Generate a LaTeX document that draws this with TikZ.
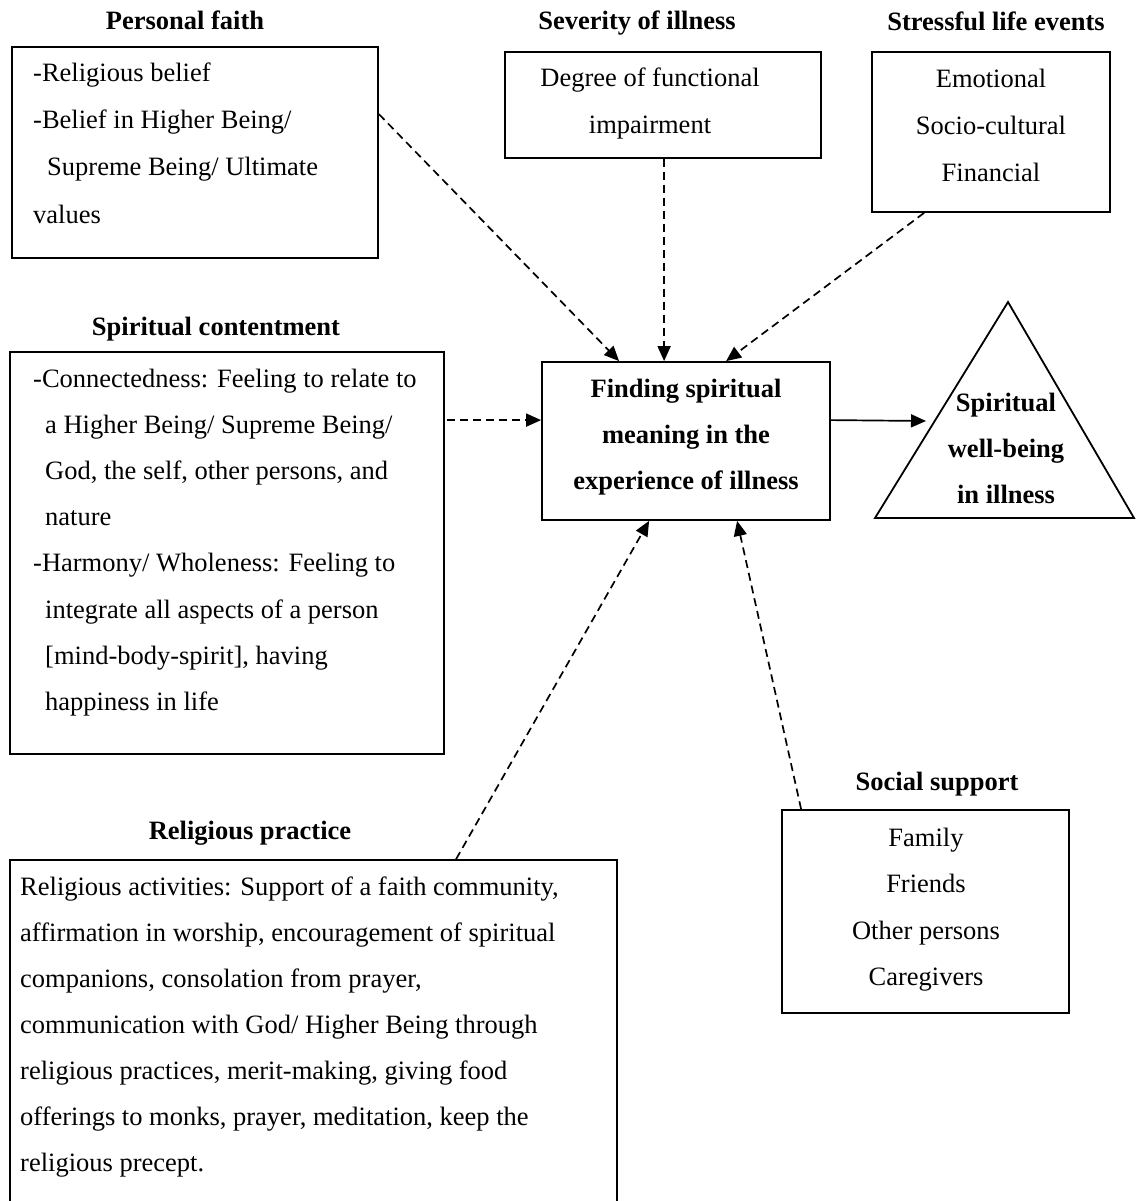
\documentclass[tikz,border=0pt]{standalone}
\usepackage{fontspec}
\setmainfont{Liberation Serif}
\usetikzlibrary{arrows.meta,calc}
\begin{document}
\begin{tikzpicture}[x=1pt,y=-1pt,
  box/.style={draw, line width=1.8pt, inner sep=0pt},
  txt/.style={anchor=base west, inner sep=0pt},
  ctxt/.style={anchor=base, inner sep=0pt},
  ttl/.style={anchor=base, inner sep=0pt, font=\bfseries},
  dasharrow/.style={line width=1.7pt, dash pattern=on 8pt off 5pt, -{Triangle[length=15pt,width=13pt]}},
  solidarrow/.style={line width=1.7pt, -{Triangle[length=15pt,width=13pt]}}]
\fontsize{26.5}{46}\selectfont
\clip (0,0) rectangle (1136,1201);
\fill[white] (0,0) rectangle (1136,1201);

% Personal faith
\node[ttl] (pft) at (185,30) {Personal faith};
\node[box, minimum width=366pt, minimum height=211pt] (pf) at (195,152.5) {};
\node[txt] (pf1) at (33,82) {-Religious belief};
\node[txt] (pf2) at (33,129) {-Belief in Higher Being/};
\node[txt] (pf3) at (47,176) {Supreme Being/ Ultimate};
\node[txt] (pf4) at (33,223) {values};

% Severity of illness
\node[ttl] (sevt) at (637,30) {Severity of illness};
\node[box, minimum width=316pt, minimum height=106pt] (sev) at (663,105) {};
\node[ctxt] (sev1) at (650,87) {Degree of functional};
\node[ctxt] (sev2) at (650,134) {impairment};

% Stressful life events
\node[ttl] (strt) at (996,31) {Stressful life events};
\node[box, minimum width=238pt, minimum height=160pt] (str) at (991,132) {};
\node[ctxt] (str1) at (991,88) {Emotional};
\node[ctxt] (str2) at (991,135) {Socio-cultural};
\node[ctxt] (str3) at (991,182) {Financial};

% Spiritual contentment
\node[ttl] (sct) at (216,335) {Spiritual contentment};
\node[box, minimum width=434pt, minimum height=402pt] (sc) at (227,553) {};
\node[txt] (sc1) at (33,387) {-Connectedness: Feeling to relate to};
\node[txt] (sc2) at (45,433) {a Higher Being/ Supreme Being/};
\node[txt] (sc3) at (45,479) {God, the self, other persons, and};
\node[txt] (sc4) at (45,525) {nature};
\node[txt] (sc5) at (33,571) {-Harmony/ Wholeness: Feeling to};
\node[txt] (sc6) at (45,618) {integrate all aspects of a person};
\node[txt] (sc7) at (45,664) {[mind-body-spirit], having};
\node[txt] (sc8) at (45,710) {happiness in life};

% Central
\node[box, minimum width=288pt, minimum height=158pt] (cen) at (686,441) {};
\node[ctxt, font=\bfseries] (cen1) at (686,397) {Finding spiritual};
\node[ctxt, font=\bfseries] (cen2) at (686,443) {meaning in the};
\node[ctxt, font=\bfseries] (cen3) at (686,489) {experience of illness};

% Triangle
\draw[line width=1.8pt, line join=miter] (1008,302) -- (875,518) -- (1134,518) -- cycle;
\coordinate (tri) at (926,421);
\node[ctxt, font=\bfseries] (tri1) at (1006,411) {Spiritual};
\node[ctxt, font=\bfseries] (tri2) at (1006,457) {well-being};
\node[ctxt, font=\bfseries] (tri3) at (1006,503) {in illness};

% Religious practice
\node[ttl] (rpt) at (250,839) {Religious practice};
\node[box, minimum width=607pt, minimum height=360pt] (rp) at (313.5,1040) {};
\node[txt] (rp1) at (20,895) {Religious activities: Support of a faith community,};
\node[txt] (rp2) at (20,941) {affirmation in worship, encouragement of spiritual};
\node[txt] (rp3) at (20,987) {companions, consolation from prayer,};
\node[txt] (rp4) at (20,1033) {communication with God/ Higher Being through};
\node[txt] (rp5) at (20,1079) {religious practices, merit-making, giving food};
\node[txt] (rp6) at (20,1125) {offerings to monks, prayer, meditation, keep the};
\node[txt] (rp7) at (20,1171) {religious precept.};

% Social support
\node[ttl] (sst) at (937,790) {Social support};
\node[box, minimum width=287pt, minimum height=203pt] (ss) at (925.5,911.5) {};
\node[ctxt] (ss1) at (926,846) {Family};
\node[ctxt] (ss2) at (926,892) {Friends};
\node[ctxt] (ss3) at (926,939) {Other persons};
\node[ctxt] (ss4) at (926,985) {Caregivers};

% Connectors
\draw[dasharrow] ($(pf.north east)+(0,68)$) -- ($(cen.north west)+(78,0)$);
\draw[dasharrow] ($(sev.south west)+(160,0)$) -- ($(cen.north west)+(123,0)$);
\draw[dasharrow] ($(str.south west)+(53,0)$) -- ($(cen.north west)+(185,0)$);
\draw[dasharrow] ($(sc.north east)+(2,69)$) -- ($(cen.north west)+(0,59)$);
\draw[dasharrow] ($(rp.north west)+(447,0)$) -- ($(cen.south west)+(108,0)$);
\draw[dasharrow] ($(ss.north west)+(20,0)$) -- ($(cen.south west)+(196,0)$);
\draw[solidarrow] ($(cen.north east)+(0,59)$) -- (tri);
\end{tikzpicture}
\end{document}
